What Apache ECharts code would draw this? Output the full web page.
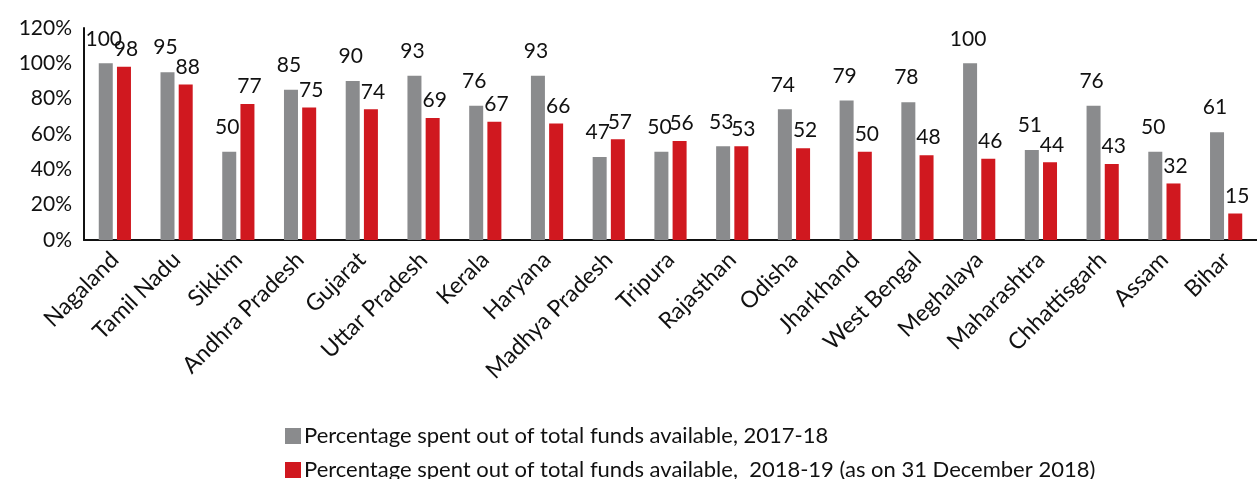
<!DOCTYPE html>
<html>
<head>
<meta charset="utf-8">
<script src="https://cdn.jsdelivr.net/npm/echarts@6/dist/echarts.min.js"></script>
<style>
  html, body { margin: 0; padding: 0; background: #fff; }
  #chart { width: 1257px; height: 479px; }
</style>
</head>
<body>
<div id="chart"></div>
<script>
var states = ['Nagaland', 'Tamil Nadu', 'Sikkim', 'Andhra Pradesh', 'Gujarat', 'Uttar Pradesh', 'Kerala',
  'Haryana', 'Madhya Pradesh', 'Tripura', 'Rajasthan', 'Odisha', 'Jharkhand', 'West Bengal',
  'Meghalaya', 'Maharashtra', 'Chhattisgarh', 'Assam', 'Bihar'];
var spent1718 = [100, 95, 50, 85, 90, 93, 76, 93, 47, 50, 53, 74, 79, 78, 100, 51, 76, 50, 61];
var spent1819 = [98, 88, 77, 75, 74, 69, 67, 66, 57, 56, 53, 52, 50, 48, 46, 44, 43, 32, 15];
var seriesNames = ['Percentage spent out of total funds available, 2017-18',
  'Percentage spent out of total funds available,  2018-19 (as on 31 December 2018)'];

var FONT = 'Lato';
var chart = echarts.init(document.getElementById('chart'));

// one legend per line, stacked
function legendRow(name, top) {
  return {
    left: 280,
    top: top,
    itemWidth: 16,
    itemHeight: 16,
    icon: 'rect',
    textStyle: { fontFamily: FONT, fontSize: 22, color: '#111', padding: [0, 0, 0, -2] },
    data: [name]
  };
}

chart.setOption({
  animation: false,
  textStyle: { fontFamily: FONT },
  grid: { left: 84, right: -11, top: 28, bottom: 239, containLabel: false },
  legend: [legendRow(seriesNames[0], 420), legendRow(seriesNames[1], 454)],
  xAxis: {
    type: 'category',
    data: states,
    axisTick: { show: false },
    axisLine: { lineStyle: { color: '#111', width: 2 } },
    axisLabel: {
      rotate: 45,
      interval: 0,
      margin: 16,
      fontSize: 23,
      color: '#111',
      fontFamily: FONT
    }
  },
  yAxis: {
    type: 'value',
    min: 0,
    max: 120,
    interval: 20,
    splitLine: { show: false },
    axisTick: { show: false },
    axisLine: { show: true, lineStyle: { color: '#111', width: 2 } },
    axisLabel: {
      formatter: '{value}%',
      fontSize: 21,
      color: '#111',
      margin: 12,
      fontFamily: FONT
    }
  },
  series: [
    {
      name: seriesNames[0],
      type: 'bar',
      data: spent1718,
      barWidth: 14,
      barGap: '30%',
      itemStyle: { color: '#8a8b8d' },
      label: {
        show: true,
        position: 'top',
        distance: 14,
        offset: [-2, 0],
        fontSize: 21,
        color: '#111',
        fontFamily: FONT
      }
    },
    {
      name: seriesNames[1],
      type: 'bar',
      data: spent1819,
      barWidth: 14,
      itemStyle: { color: '#d0181f' },
      label: {
        show: true,
        position: 'top',
        distance: 7,
        offset: [2, 0],
        fontSize: 21,
        color: '#111',
        fontFamily: FONT
      }
    }
  ]
});
</script>
</body>
</html>
